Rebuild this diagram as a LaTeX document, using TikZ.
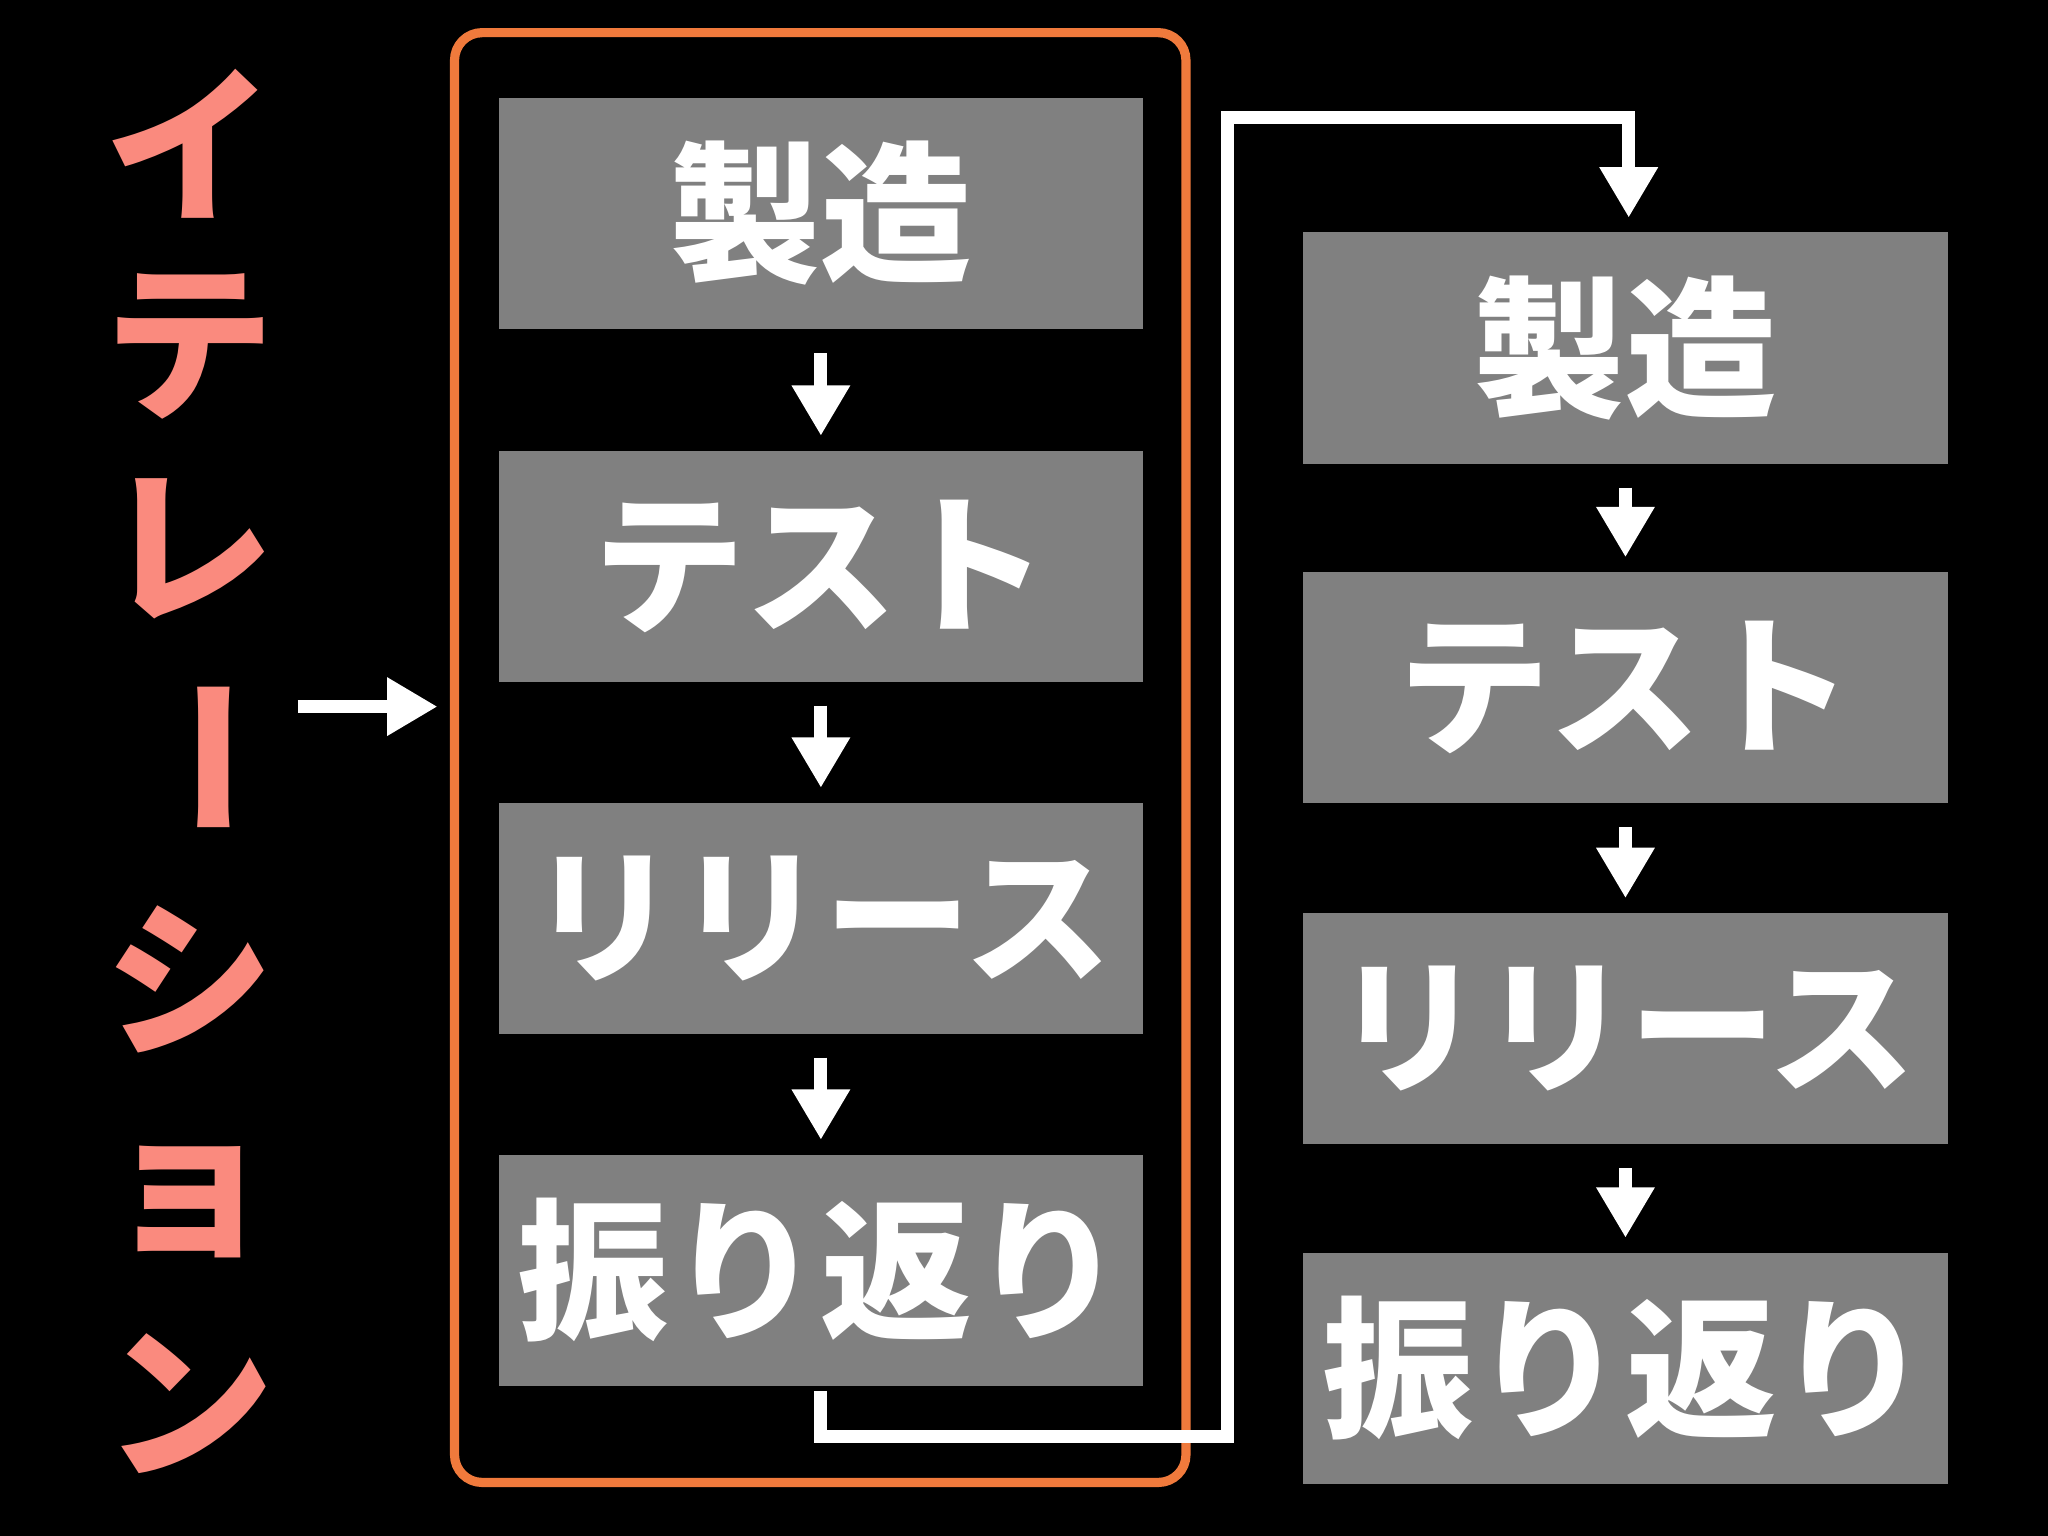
\documentclass[tikz,border=0pt]{standalone}
\usepackage{fontspec}
\newfontfamily\cjk{Noto Sans CJK JP}
\usetikzlibrary{arrows.meta}
\definecolor{salmon}{HTML}{FA8A7E}
\definecolor{boxgray}{HTML}{808080}
\definecolor{orng}{HTML}{F07A3C}
\tikzset{
  stepbox/.style={fill=boxgray,draw=none,minimum width=4.93cm,minimum height=1.77cm,text width=4.8cm,align=center,inner sep=0pt,font=\cjk\bfseries\fontsize{33}{35}\selectfont,text=white},
  flow/.style={draw=white,line width=2.8pt,-{Triangle[width=12pt,length=11pt]}},
  vch/.style={text=salmon,font=\cjk\bfseries\fontsize{37}{39}\selectfont,inner sep=0pt}
}
\begin{document}
\begin{tikzpicture}[x=0.01cm,y=-0.01cm]
\fill[black] (0,0) rectangle (1568,1176);
\useasboundingbox (0,0) rectangle (1568,1176);
\draw[orng,line width=2pt,rounded corners=6pt] (348,25) rectangle (908,1135);
\node[stepbox] (a1) at (628.5,163.5) {製造};
\node[stepbox] (a2) at (628.5,433.5) {テスト};
\node[stepbox,font=\cjk\bfseries\fontsize{32}{34}\selectfont] (a3) at (628.5,703) {リリース};
\node[stepbox] (a4) at (628.5,972.5) {振り返り};
\node[stepbox] (b1) at (1244.5,266.5) {製造};
\node[stepbox] (b2) at (1244.5,526.5) {テスト};
\node[stepbox,font=\cjk\bfseries\fontsize{32}{34}\selectfont] (b3) at (1244.5,787.5) {リリース};
\node[stepbox] (b4) at (1244.5,1047.5) {振り返り};
\foreach \u/\v in {a1/a2,a2/a3,a3/a4,b1/b2,b2/b3,b3/b4}
  \draw[flow,shorten <=5pt,shorten >=3pt] (\u.south) -- (\v.north);
\coordinate (c1) at (628,1100);
\coordinate (c2) at (940,1100);
\coordinate (c3) at (940,90);
\coordinate (c4) at (1247,90);
\draw[flow] ([yshift=-1pt]a4.south -| c1) -- (c1) -- (c2) -- (c3) -- (c4) -- ([yshift=3pt]b1.north -| c4);
\coordinate (s) at (228,541);
\coordinate (t) at (335,541);
\draw[flow] (s) -- (t);
\node[vch] (v1) at (145,110) {イ};
\node[vch] (v2) at (145,265) {テ};
\node[vch] (v3) at (145,420) {レ};
\node[vch,rotate=-90] (v4) at (145,580) {ー};
\node[vch] (v5) at (145,750) {シ};
\node[vch] (v6) at (145,920) {ョ};
\node[vch] (v7) at (145,1075) {ン};
\end{tikzpicture}
\end{document}
